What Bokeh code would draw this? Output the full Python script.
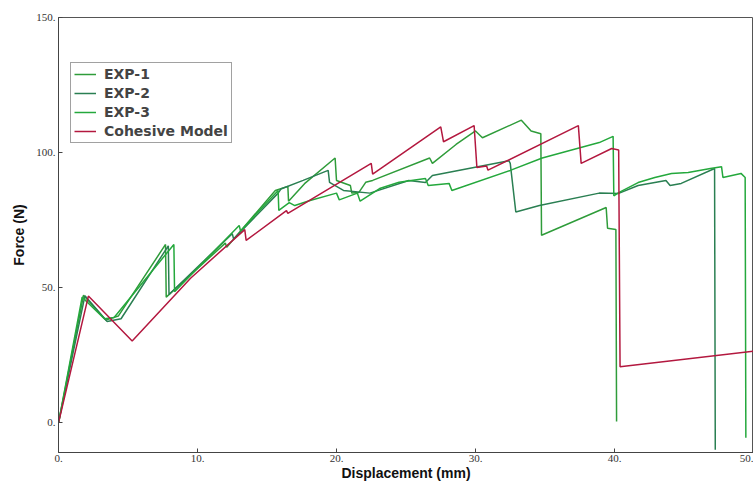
from bokeh.plotting import figure
from bokeh.models import Range1d, FixedTicker, Legend, LegendItem
from bokeh.embed import file_html
from bokeh.resources import INLINE

# ---- data ----
exp1_x = [0, 1.8, 3.4, 4.3, 7.7, 7.75, 12.0, 12.1, 15.6, 16.5, 16.55, 17.7, 19.9, 20.0, 21.0, 21.1,
          21.6, 22.1, 22.6, 26.7, 26.9, 28.6, 30.0, 30.5, 33.3, 34.0, 34.7, 34.75, 39.4, 39.5, 40.1, 40.15]
exp1_y = [0, 47.2, 38.0, 39.5, 66.0, 46.5, 66.5, 65.0, 86.0, 87.5, 82.0, 88.5, 98.0, 89.7, 87.8, 85.0,
          85.2, 89.0, 89.7, 98.0, 96.0, 103.0, 108.0, 105.5, 112.0, 108.0, 107.0, 69.4, 79.7, 72.0, 71.5, 0.5]

exp2_x = [0, 1.9, 3.5, 4.5, 7.9, 7.95, 12.5, 12.6, 15.8, 16.0, 17.6, 19.4, 19.5, 20.5, 22.4, 25.2,
          26.4, 26.9, 32.4, 32.5, 32.9, 34.6, 38.9, 40.3, 41.7, 43.7, 44.0, 44.8, 47.2, 47.25]
exp2_y = [0, 47.0, 37.5, 38.5, 65.5, 47.5, 70.0, 68.0, 85.0, 86.5, 89.7, 93.4, 89.0, 86.0, 85.0, 89.7,
          88.9, 91.5, 97.0, 96.0, 78.0, 80.4, 85.0, 84.9, 87.8, 89.7, 87.8, 88.6, 94.1, -10.0]

exp3_x = [0, 1.7, 3.3, 4.0, 8.3, 8.35, 13.0, 13.1, 15.8, 15.85, 16.6, 17.0, 18.1, 20.0, 20.2, 21.5,
          21.7, 23.1, 24.5, 26.4, 26.6, 28.1, 28.3, 32.5, 34.8, 38.9, 39.9, 39.95, 40.3, 41.7, 42.9,
          44.1, 45.3, 46.9, 47.7, 47.8, 49.1, 49.4, 49.45]
exp3_y = [0, 46.5, 38.5, 39.0, 66.0, 48.5, 73.0, 71.0, 86.0, 78.6, 81.5, 80.4, 82.3, 85.0, 82.5, 85.0,
          82.0, 86.7, 89.0, 90.4, 87.8, 88.6, 86.0, 93.4, 98.0, 103.7, 106.0, 84.0, 85.2, 88.9, 90.8,
          92.3, 92.6, 94.1, 94.8, 90.8, 92.3, 90.8, -5.5]

coh_x = [0, 2.15, 5.3, 9.5, 13.4, 13.5, 16.4, 16.5, 22.5, 22.6, 27.5, 27.7, 29.9, 30.1, 30.8, 30.9,
         37.4, 37.6, 39.8, 40.3, 40.4, 50.0]
coh_y = [0, 46.9, 30.3, 53.5, 71.5, 67.5, 78.5, 77.5, 96.0, 92.0, 109.5, 104.0, 110.0, 94.5, 95.0, 93.5,
         110.0, 96.0, 101.5, 101.0, 20.7, 26.5]

series_names = ["EXP-1", "EXP-2", "EXP-3", "Cohesive Model"]
x_ticks = [0, 10, 20, 30, 40, 50]
x_tick_labels = ["0.", "10.", "20.", "30.", "40.", "50."]
y_ticks = [0, 50, 100, 150]
y_tick_labels = ["0.", "50.", "100.", "150."]

colors = ["#2f9c3a", "#2a7f52", "#24a83c", "#b3183f"]

p = figure(width=753, height=483, output_backend="svg", toolbar_location=None,
           x_range=Range1d(0, 50), y_range=Range1d(-11, 150),
           min_border_left=58, min_border_right=0, min_border_top=17, min_border_bottom=30)
p.background_fill_color = "white"
p.border_fill_color = "white"
p.grid.visible = False
p.outline_line_color = "#555555"
p.outline_line_width = 1

renderers = []
for xs, ys, c in zip([exp1_x, exp2_x, exp3_x, coh_x], [exp1_y, exp2_y, exp3_y, coh_y], colors):
    r = p.line(xs, ys, line_color=c, line_width=1.5)
    renderers.append(r)

for ax in (p.xaxis[0], p.yaxis[0]):
    ax.major_tick_in = 4
    ax.major_tick_out = 0
    ax.minor_tick_in = 0
    ax.minor_tick_out = 0
    ax.axis_line_color = "#444444"
    ax.major_tick_line_color = "#444444"
    ax.major_label_text_font = "Liberation Serif"
    ax.major_label_text_font_size = "11px"
    ax.major_label_text_color = "#333333"
    ax.axis_label_text_font = "Liberation Sans Narrow, Liberation Sans"
    ax.axis_label_text_font_style = "bold"
    ax.axis_label_text_font_size = "14px"
    ax.axis_label_text_color = "#111111"

p.xaxis[0].ticker = FixedTicker(ticks=x_ticks)
p.xaxis[0].major_label_overrides = {t: s for t, s in zip(x_ticks, x_tick_labels)}
p.yaxis[0].ticker = FixedTicker(ticks=y_ticks)
p.yaxis[0].major_label_overrides = {t: s for t, s in zip(y_ticks, y_tick_labels)}
p.xaxis[0].axis_label = "Displacement (mm)"
p.yaxis[0].axis_label = "Force (N)"
p.xaxis[0].major_label_standoff = 2
p.yaxis[0].major_label_standoff = 3
p.xaxis[0].axis_label_standoff = 0
p.yaxis[0].axis_label_standoff = 6

legend = Legend(items=[LegendItem(label=n, renderers=[r]) for n, r in zip(series_names, renderers)],
                location=(12, 309))
legend.border_line_color = "#444444"
legend.border_line_width = 1
legend.background_fill_color = "white"
legend.label_text_font = "DejaVu Sans"
legend.label_text_font_style = "bold"
legend.label_text_font_size = "14px"
legend.glyph_width = 22
legend.glyph_height = 16
legend.label_height = 16
legend.spacing = 3
legend.padding = 3
legend.margin = 0
legend.label_standoff = 8
p.add_layout(legend, "center")

open("out.html", "w").write(file_html(p, INLINE))
